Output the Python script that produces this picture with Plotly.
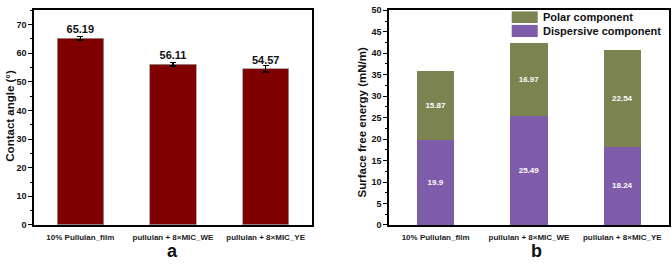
import plotly.graph_objects as go

categories = ["10% Pullulan_film", "pullulan + 8×MIC_WE", "pullulan + 8×MIC_YE"]
contact_angle = [65.19, 56.11, 54.57]
contact_err = [0.6, 0.6, 1.1]
dispersive = [19.9, 25.49, 18.24]
polar = [15.87, 16.97, 22.54]

W, H = 672, 267
FONT = "Liberation Sans, Arial, sans-serif"
RED = "#800000"
GREEN = "#7B8350"
PURPLE = "#7F5CA9"

def px_x(v):
    return v / W

def px_y(v):
    return 1 - v / H

fig = go.Figure()

fig.add_trace(go.Bar(
    x=categories, y=contact_angle, width=0.5,
    marker=dict(color=RED, line=dict(color="#9a9a9a", width=0.8)),
    error_y=dict(type="data", array=contact_err, color="black", thickness=1.5, width=3),
    text=[f"<b>{v:.2f}</b>" for v in contact_angle], textposition="outside",
    textfont=dict(family=FONT, size=11, color="#111"),
    cliponaxis=False, xaxis="x", yaxis="y", showlegend=False,
))

fig.add_trace(go.Bar(
    x=categories, y=dispersive, width=0.4, name="Dispersive component",
    marker=dict(color=PURPLE, line=dict(width=0)),
    text=[f"<b>{v}</b>" for v in dispersive], textposition="inside", insidetextanchor="middle",
    textfont=dict(family=FONT, size=8, color="white"),
    xaxis="x2", yaxis="y2", showlegend=False,
))
fig.add_trace(go.Bar(
    x=categories, y=polar, width=0.4, name="Polar component",
    marker=dict(color=GREEN, line=dict(width=0)),
    text=[f"<b>{v:.2f}</b>" for v in polar], textposition="inside", insidetextanchor="middle",
    textfont=dict(family=FONT, size=8, color="white"),
    xaxis="x2", yaxis="y2", showlegend=False,
))

axis_common = dict(showline=True, linecolor="black", linewidth=1.5, mirror=True,
                   showgrid=False, zeroline=False,
                   tickfont=dict(family=FONT, size=9, color="#111"),
                   tickprefix="<b>", ticksuffix="</b>",
                   ticks="outside", ticklen=4, tickwidth=1.2, tickcolor="black")

xaxis_common = dict(range=[-0.5, 2.5], ticks="", ticklabelstandoff=4,
                    tickfont=dict(family=FONT, size=8, color="#222"),
                    showline=True, linecolor="black", linewidth=1.5, mirror=True,
                    showgrid=False, zeroline=False,
                    tickvals=categories, ticktext=[f"<b>{c}</b>" for c in categories])

ydom = [px_y(228.5), px_y(5.5)]

fig.update_layout(
    width=W, height=H, margin=dict(l=0, r=0, t=0, b=0),
    paper_bgcolor="white", plot_bgcolor="white",
    barmode="stack", font=dict(family=FONT, color="#111"),
    xaxis=dict(domain=[px_x(34), px_x(312)], anchor="y", **xaxis_common),
    yaxis=dict(domain=ydom, anchor="x", range=[0, 75], dtick=10,
               minor=dict(dtick=5, ticks="outside", ticklen=2, tickwidth=1, tickcolor="black"),
               **axis_common),
    xaxis2=dict(domain=[px_x(389), px_x(669)], anchor="y2", **xaxis_common),
    yaxis2=dict(domain=ydom, anchor="x2", range=[0, 50], dtick=5,
                minor=dict(dtick=2.5, ticks="outside", ticklen=2, tickwidth=1, tickcolor="black"),
                **axis_common),
)

# axis titles
for text, xc, yc in [("Contact angle (°)", 10, 115), ("Surface free energy (mN/m)", 362, 122)]:
    fig.add_annotation(text=f"<b>{text}</b>", x=px_x(xc), y=px_y(yc), xref="paper", yref="paper",
                       showarrow=False, textangle=-90, font=dict(family=FONT, size=11.5, color="#111"),
                       xanchor="center", yanchor="middle")

# panel letters
for letter, xc in [("a", 172), ("b", 536)]:
    fig.add_annotation(text=f"<b>{letter}</b>", x=px_x(xc), y=0.0, xref="paper", yref="paper",
                       showarrow=False, font=dict(family=FONT, size=18, color="#111"),
                       xanchor="center", yanchor="bottom", borderpad=0)

# legend
legend_items = [("Polar component", GREEN, 6.7, 18.7), ("Dispersive component", PURPLE, 20.7, 33.3)]
for label, col, y0, y1 in legend_items:
    fig.add_shape(type="rect", xref="paper", yref="paper",
                  x0=px_x(511.7), x1=px_x(537.7), y0=px_y(y1), y1=px_y(y0),
                  fillcolor=col, line=dict(width=0))
    fig.add_annotation(text=f"<b>{label}</b>", x=px_x(541), y=px_y((y0 + y1) / 2),
                       xref="paper", yref="paper", showarrow=False,
                       font=dict(family=FONT, size=11, color="#111"),
                       xanchor="left", yanchor="middle")

fig.write_html("out.html")
